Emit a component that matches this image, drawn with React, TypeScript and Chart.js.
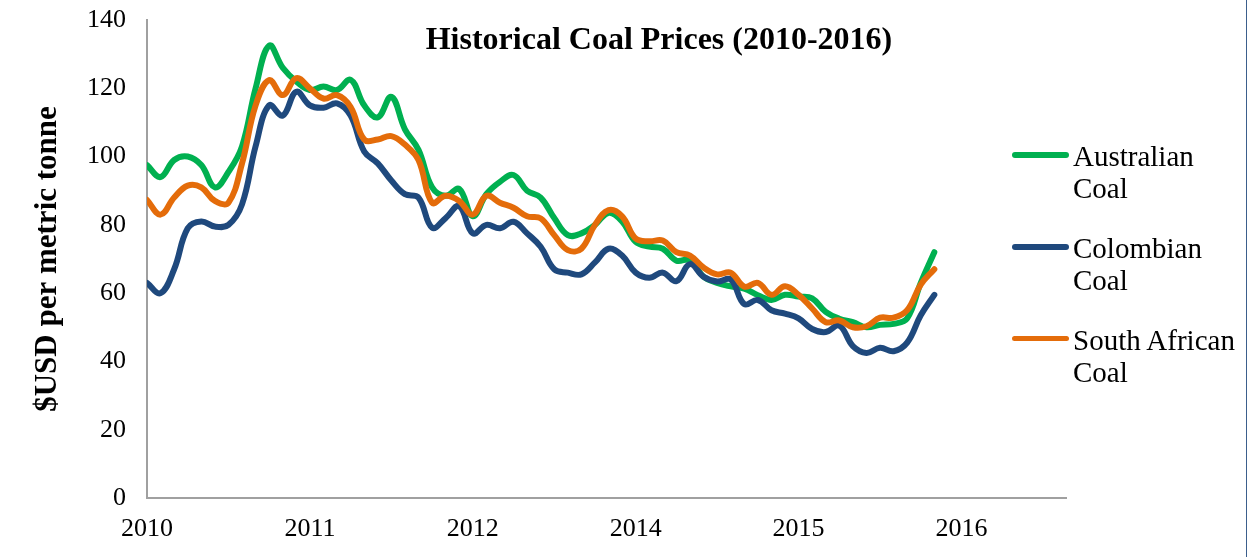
import React, { useEffect, useRef } from "react";
import { Chart, registerables } from "chart.js";

Chart.register(...registerables);

// x positions are month indices (0 = Jan 2010); ticks shown at these indices
const tickPositions = [0, 12, 24, 36, 48, 60];
const tickLabels = ["2010", "2011", "2012", "2014", "2015", "2016"];
const yTicks = [0, 20, 40, 60, 80, 100, 120, 140];

const australian = [
  97.5, 94, 99, 100, 97.5, 91, 95.5, 103, 120, 132.5, 126, 122, 119.5, 120.5, 119.5,
  122.5, 115, 111.5, 117.5, 108, 102, 91, 88.5, 90.5, 82.5, 89, 92.6, 94.6, 90, 88,
  82, 77, 77.5, 80, 83.5, 81, 75, 73.6, 73, 69.5, 69.7, 64.8, 63, 62, 61.3,
  59.4, 58, 59.5, 59, 58.5, 54.5, 52.5, 51.5, 50, 50.7, 51, 52.6, 63, 72,
];
const colombian = [
  63, 60, 67, 79, 81, 79.5, 80, 86, 103, 115, 112, 119, 115, 114.3, 115.6,
  112, 101.5, 98, 93, 89, 88, 79.2, 82, 85.5, 77.5, 80, 79, 80.9, 77.5, 73.6,
  67, 66, 65.5, 69, 73, 71, 66, 64.5, 66, 63.5, 68.5, 64.8, 63.4, 64, 56.8,
  58, 55, 54, 52.6, 49.5, 48.6, 50.5, 44.5, 42.5, 44, 43, 45.5, 53.5, 59.5,
];
const southAfrican = [
  87.3, 83, 88, 91.5, 91, 87, 86.5, 98, 115, 122.4, 118, 123, 120, 117, 118,
  114.5, 105, 105, 106, 103.5, 99, 86.5, 88.5, 87, 83, 88.5, 86.5, 85, 82.5, 81.9,
  77, 72.6, 73, 80, 84.3, 82.5, 76, 75.2, 75.4, 72, 71, 67.5, 65.5, 66, 61.9,
  63, 59.5, 62, 59.5, 55.5, 51.5, 52, 50, 50.3, 52.8, 52.8, 55, 62.5, 67,
];

const seriesLabels = [
  ["Australian", "Coal"],
  ["Colombian", "Coal"],
  ["South African", "Coal"],
];
const seriesColors = ["#00B050", "#1F497D", "#E46C0A"];
const seriesData = [australian, colombian, southAfrican];

const chartTitle = "Historical Coal Prices (2010-2016)";
const yTitle = "$USD per metric tonne";

const FONT = "'Liberation Serif', 'Times New Roman', serif";

export default function App() {
  const canvasRef = useRef<HTMLCanvasElement | null>(null);

  useEffect(() => {
    const canvas = canvasRef.current;
    if (!canvas) return;
    const datasets = seriesData.map((vals, k) => ({
      label: seriesLabels[k].join(" "),
      data: vals.map((v, i) => ({ x: i, y: v })),
      borderColor: seriesColors[k],
      backgroundColor: seriesColors[k],
      borderWidth: 6,
      pointRadius: 0,
      tension: 0.4,
      fill: false,
      borderCapStyle: "round" as const,
      borderJoinStyle: "round" as const,
      order: seriesData.length - 1 - k,
    }));
    const chart = new Chart(canvas, {
      type: "line",
      data: { datasets },
      options: {
        responsive: false,
        animation: false,
        layout: { padding: { left: 0, right: 182, top: 20, bottom: 0 } },
        plugins: {
          legend: { display: false },
          title: { display: false },
          tooltip: { enabled: false },
        },
        scales: {
          x: {
            type: "linear",
            min: 0,
            max: 67.7,
            grid: { display: false, drawTicks: false },
            border: { display: true, color: "#A0A0A0", width: 2 },
            afterBuildTicks: (s: any) => {
              s.ticks = tickPositions.map((v) => ({ value: v }));
            },
            ticks: {
              autoSkip: false,
              maxRotation: 0,
              padding: 16,
              color: "#000",
              font: { family: FONT, size: 26 },
              callback: (v: any) => {
                const i = tickPositions.indexOf(Number(v));
                return i >= 0 ? tickLabels[i] : "";
              },
            },
            afterFit: (s: any) => {
              s.height = 59;
            },
          },
          y: {
            min: 0,
            max: 140,
            afterBuildTicks: (s: any) => {
              s.ticks = yTicks.map((v) => ({ value: v }));
            },
            grid: { display: false, drawTicks: true, tickLength: 21 },
            border: { display: true, color: "#A0A0A0", width: 2 },
            ticks: {
              padding: 0,
              color: "#000",
              font: { family: FONT, size: 26 },
            },
            title: {
              display: true,
              text: yTitle,
              color: "#000",
              font: { family: FONT, size: 31, weight: "bold" },
              padding: { top: 29, bottom: 0 },
            },
            afterFit: (s: any) => {
              s.width = 147;
            },
          },
        },
      },
    });
    return () => chart.destroy();
  }, []);

  return (
    <div
      style={{
        position: "absolute",
        left: 0,
        top: 0,
        width: 1248,
        height: 557,
        background: "#fff",
        overflow: "hidden",
      }}
    >
      <canvas
        ref={canvasRef}
        width={1248}
        height={557}
        style={{ display: "block", width: 1248, height: 557 }}
      />
      <div
        style={{
          position: "absolute",
          left: 359,
          width: 600,
          top: 22,
          textAlign: "center",
          fontFamily: FONT,
          fontWeight: "bold",
          fontSize: 32,
          lineHeight: "32px",
          color: "#000",
          whiteSpace: "nowrap",
        }}
      >
        {chartTitle}
      </div>
      {seriesLabels.map((lines, k) => (
        <div
          key={k}
          style={{
            position: "absolute",
            left: 1012,
            top: 140 + k * 91.8,
            display: "flex",
            alignItems: "flex-start",
          }}
        >
          <div
            style={{
              width: 57,
              height: 5.5,
              borderRadius: 3,
              background: seriesColors[k],
              marginTop: 12.3,
            }}
          />
          <div
            style={{
              marginLeft: 4,
              fontFamily: FONT,
              fontSize: 29,
              lineHeight: "32px",
              color: "#000",
              whiteSpace: "nowrap",
            }}
          >
            {lines.map((t, j) => (
              <div key={j}>{t}</div>
            ))}
          </div>
        </div>
      ))}
      <div
        style={{
          position: "absolute",
          left: 1246,
          top: 0,
          width: 1,
          height: 557,
          background: "#3B5E8C",
        }}
      />
    </div>
  );
}
